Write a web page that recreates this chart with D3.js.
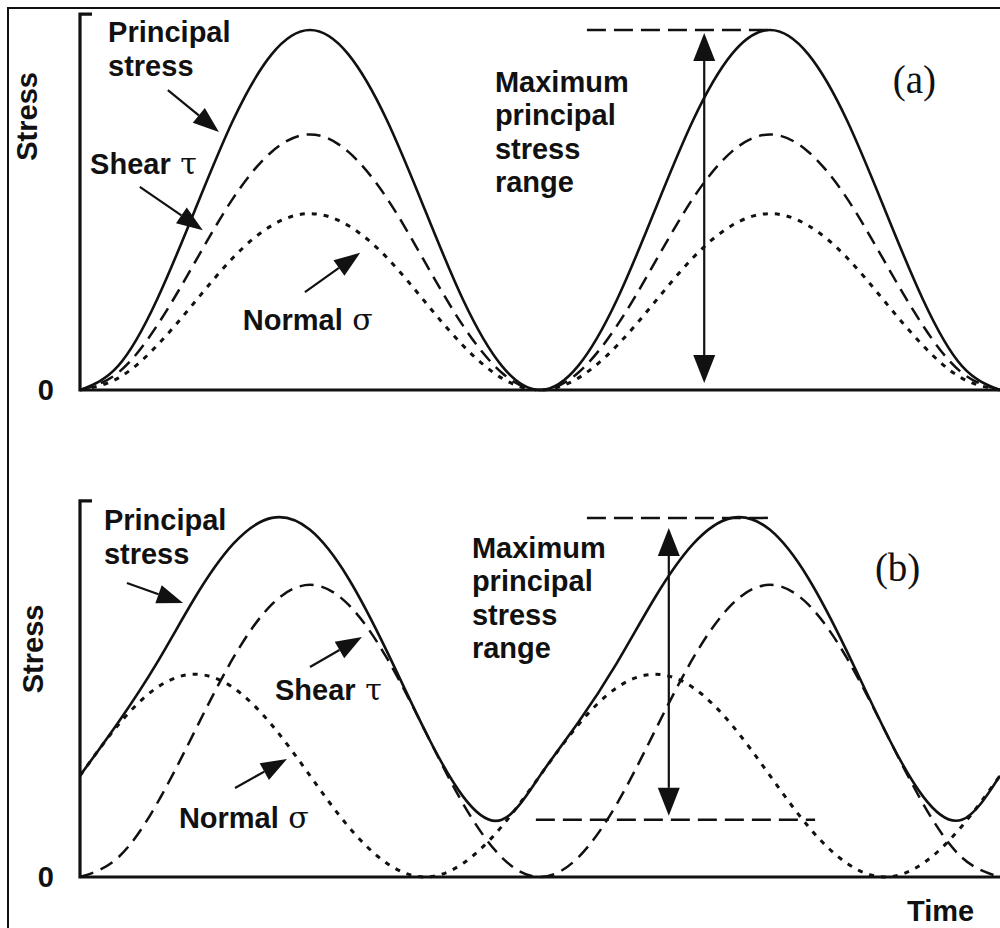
<!DOCTYPE html>
<html>
<head>
<meta charset="utf-8">
<title>Principal stress range</title>
<script src="https://d3js.org/d3.v7.min.js"></script>
<style>
  body { margin: 0; background: #fff; }
  .lbl { font-family: "Liberation Sans", Arial, sans-serif; font-weight: bold; font-size: 29px; fill: #111; }
  .greek { font-family: "DejaVu Serif", "Liberation Serif", serif; font-weight: normal; font-size: 30px; }
  .panelTag { font-family: "Liberation Serif", "Times New Roman", serif; font-size: 39px; fill: #111; }
</style>
</head>
<body>
<svg id="chart" width="1000" height="928"></svg>
<script>
// time in load cycles, stress normalised to the peak principal stress
var time = [0, 0.083, 0.167, 0.25, 0.333, 0.417, 0.5, 0.583, 0.667, 0.75, 0.833, 0.917,
            1, 1.083, 1.167, 1.25, 1.333, 1.417, 1.5, 1.583, 1.667, 1.75, 1.833, 1.917, 2];

// (a) in-phase loading
var principalA = [0, 0.067, 0.25, 0.5, 0.75, 0.933, 1, 0.933, 0.75, 0.5, 0.25, 0.067,
                  0, 0.067, 0.25, 0.5, 0.75, 0.933, 1, 0.933, 0.75, 0.5, 0.25, 0.067, 0];
var shearA     = [0, 0.048, 0.178, 0.355, 0.533, 0.662, 0.71, 0.662, 0.533, 0.355, 0.178, 0.048,
                  0, 0.048, 0.178, 0.355, 0.533, 0.662, 0.71, 0.662, 0.533, 0.355, 0.178, 0.048, 0];
var normalA    = [0, 0.033, 0.123, 0.245, 0.368, 0.457, 0.49, 0.457, 0.368, 0.245, 0.123, 0.033,
                  0, 0.033, 0.123, 0.245, 0.368, 0.457, 0.49, 0.457, 0.368, 0.245, 0.123, 0.033, 0];

// (b) out-of-phase loading
var principalB = [0.28, 0.427, 0.591, 0.772, 0.92, 0.992, 0.959, 0.826, 0.624, 0.404, 0.222, 0.158,
                  0.28, 0.427, 0.591, 0.772, 0.92, 0.992, 0.959, 0.826, 0.624, 0.404, 0.222, 0.158, 0.28];
var shearB     = [0, 0.054, 0.202, 0.404, 0.605, 0.753, 0.807, 0.753, 0.605, 0.404, 0.202, 0.054,
                  0, 0.054, 0.202, 0.404, 0.605, 0.753, 0.807, 0.753, 0.605, 0.404, 0.202, 0.054, 0];
var normalB    = [0.28, 0.42, 0.523, 0.56, 0.523, 0.42, 0.28, 0.14, 0.038, 0, 0.038, 0.14,
                  0.28, 0.42, 0.523, 0.56, 0.523, 0.42, 0.28, 0.14, 0.038, 0, 0.038, 0.14, 0.28];

var svg = d3.select('#chart');

// outer frame (right and bottom edges fall outside the picture)
svg.append('rect')
  .attr('x', 8).attr('y', 8).attr('width', 1000).attr('height', 930)
  .attr('fill', 'none').attr('stroke', '#111').attr('stroke-width', 2);

var x = d3.scaleLinear().domain([0, 2]).range([80, 1000]);

function zip(ys){ return time.map(function(t, i){ return [t, ys[i]]; }); }

function arrowHead(g, x1, y1, x2, y2, len, w){
  var a = Math.atan2(y2 - y1, x2 - x1);
  var bx = x2 - len * Math.cos(a), by = y2 - len * Math.sin(a);
  var px = Math.sin(a) * w / 2, py = -Math.cos(a) * w / 2;
  g.append('polygon')
    .attr('points', [[x2, y2], [bx + px, by + py], [bx - px, by - py]].join(' '))
    .attr('fill', '#111');
  return [bx, by];
}

function arrow(g, x1, y1, x2, y2){
  var b = arrowHead(g, x1, y1, x2, y2, 26, 19);
  g.append('line').attr('x1', x1).attr('y1', y1).attr('x2', b[0]).attr('y2', b[1])
    .attr('stroke', '#111').attr('stroke-width', 2.2);
}

function drawPanel(p){
  var y = d3.scaleLinear().domain([0, 1]).range(p.yRange);
  var g = svg.append('g');
  var line = d3.line().x(function(d){ return x(d[0]); }).y(function(d){ return y(d[1]); })
    .curve(d3.curveNatural);

  g.append('path').datum(zip(p.normal)).attr('d', line).attr('fill', 'none')
    .attr('stroke', '#111').attr('stroke-width', 3).attr('stroke-dasharray', '5,7');
  g.append('path').datum(zip(p.shear)).attr('d', line).attr('fill', 'none')
    .attr('stroke', '#111').attr('stroke-width', 2.5).attr('stroke-dasharray', '14,8');
  g.append('path').datum(zip(p.principal)).attr('d', line).attr('fill', 'none')
    .attr('stroke', '#111').attr('stroke-width', 2.6);

  // axes: bracket-style y axis and plain time axis
  g.append('path')
    .attr('d', 'M' + (x(0) + 12) + ',' + y(p.axisTop) + 'H' + x(0) + 'V' + y(0) + 'H' + x(2))
    .attr('fill', 'none').attr('stroke', '#111').attr('stroke-width', 3.2);

  var yAxis = g.append('g').attr('transform', 'translate(' + x(0) + ',0)')
    .call(d3.axisLeft(y).tickValues([0]).tickFormat(d3.format('d')).tickSize(0).tickPadding(26));
  yAxis.select('.domain').remove();
  yAxis.selectAll('text').attr('class', 'lbl').attr('fill', '#111').style('font-size', '29px');

  g.append('text').attr('class', 'lbl')
    .attr('transform', 'translate(' + p.stressX + ',' + y(p.stressMid) + ') rotate(-90)')
    .attr('text-anchor', 'middle').text('Stress');

  // curve labels with arrows
  p.notes.forEach(function(n){
    var t = g.append('text').attr('class', 'lbl')
      .attr('x', x(n.at[0])).attr('y', y(n.at[1]));
    n.lines.forEach(function(s, i){
      t.append('tspan').attr('x', x(n.at[0])).attr('dy', i ? 34 : 0).text(s);
    });
    if(n.greek){ t.append('tspan').attr('class', 'greek').text(' ' + n.greek); }
    arrow(g, x(n.from[0]), y(n.from[1]), x(n.to[0]), y(n.to[1]));
  });

  // maximum principal stress range
  var pMax = d3.max(p.principal), pMin = d3.min(p.principal);
  g.append('line').attr('x1', x(p.topDash[0])).attr('x2', x(p.topDash[1]))
    .attr('y1', y(pMax)).attr('y2', y(pMax))
    .attr('stroke', '#111').attr('stroke-width', 2.5).attr('stroke-dasharray', '19,8');
  if(p.lowDash){
    g.append('line').attr('x1', x(p.lowDash[0])).attr('x2', x(p.lowDash[1]))
      .attr('y1', y(pMin)).attr('y2', y(pMin))
      .attr('stroke', '#111').attr('stroke-width', 2.5).attr('stroke-dasharray', '19,8');
  }
  var ax = x(p.rangeAt), yTop = y(pMax) + p.inset[0], yBot = y(pMin) - p.inset[1];
  var b1 = arrowHead(g, ax, yBot, ax, yTop, 28, 22);
  var b2 = arrowHead(g, ax, yTop, ax, yBot, 28, 22);
  g.append('line').attr('x1', ax).attr('x2', ax).attr('y1', b1[1]).attr('y2', b2[1])
    .attr('stroke', '#111').attr('stroke-width', 2.2);

  var rt = g.append('text').attr('class', 'lbl');
  ['Maximum', 'principal', 'stress', 'range'].forEach(function(s, i){
    rt.append('tspan').attr('x', x(p.rangeText[0])).attr('y', y(p.rangeText[1]) + i * 33.3).text(s);
  });

  g.append('text').attr('class', 'panelTag')
    .attr('x', x(p.tag[0])).attr('y', y(p.tag[1])).text(p.tagText);
}

drawPanel({
  yRange: [390, 30], axisTop: 1.044, stressX: 37, stressMid: 0.76,
  principal: principalA, shear: shearA, normal: normalA,
  notes: [
    {lines: ['Principal', 'stress'], at: [0.061, 0.967], from: [0.191, 0.833], to: [0.302, 0.717]},
    {lines: ['Shear'], greek: '\u03c4', at: [0.022, 0.6], from: [0.13, 0.564], to: [0.267, 0.444]},
    {lines: ['Normal'], greek: '\u03c3', at: [0.354, 0.167], from: [0.489, 0.272], to: [0.609, 0.381]}
  ],
  topDash: [1.102, 1.5], rangeAt: 1.357, inset: [3, 7],
  rangeText: [0.902, 0.828], tag: [1.767, 0.825], tagText: '(a)'
});

drawPanel({
  yRange: [877, 515], axisTop: 1.039, stressX: 43, stressMid: 0.63,
  principal: principalB, shear: shearB, normal: normalB,
  notes: [
    {lines: ['Principal', 'stress'], at: [0.052, 0.959], from: [0.102, 0.812], to: [0.224, 0.757]},
    {lines: ['Shear'], greek: '\u03c4', at: [0.424, 0.489], from: [0.5, 0.58], to: [0.613, 0.663]},
    {lines: ['Normal'], greek: '\u03c3', at: [0.215, 0.135], from: [0.337, 0.246], to: [0.45, 0.326]}
  ],
  topDash: [1.102, 1.507], lowDash: [0.991, 1.598], rangeAt: 1.28, inset: [10, 4],
  rangeText: [0.852, 0.881], tag: [1.728, 0.818], tagText: '(b)'
});

svg.append('text').attr('class', 'lbl').attr('x', 907).attr('y', 921).text('Time');
</script>
</body>
</html>
